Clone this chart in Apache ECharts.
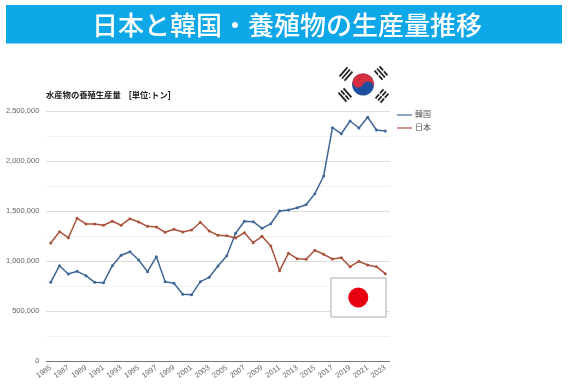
<!DOCTYPE html>
<html><head><meta charset="utf-8">
<style>html,body{margin:0;padding:0;background:#fff}#c{width:570px;height:386px}</style>
<script src="https://cdn.jsdelivr.net/npm/echarts@6/dist/echarts.min.js"></script>
</head><body><div id="c"></div>
<script>
const years = ['1985','1986','1987','1988','1989','1990','1991','1992','1993','1994','1995','1996','1997','1998','1999','2000','2001','2002','2003','2004','2005','2006','2007','2008','2009','2010','2011','2012','2013','2014','2015','2016','2017','2018','2019','2020','2021','2022','2023'];
const korea = [787000,953000,870000,897000,853000,787000,783000,953000,1057000,1093000,1010000,893000,1043000,793000,777000,667000,663000,793000,837000,950000,1053000,1277000,1397000,1393000,1327000,1373000,1500000,1510000,1533000,1563000,1673000,1850000,2333000,2273000,2400000,2330000,2437000,2310000,2300000];
const japan = [1180000,1293000,1233000,1427000,1371000,1371000,1358000,1397000,1358000,1423000,1390000,1347000,1340000,1287000,1317000,1290000,1310000,1387000,1300000,1257000,1253000,1230000,1283000,1183000,1247000,1150000,903000,1077000,1023000,1017000,1107000,1067000,1020000,1033000,943000,997000,960000,943000,873000];
const titleText = '日本と韓国・養殖物の生産量推移';
const subtitleText = '水産物の養殖生産量　[単位:トン]';
const seriesNames = ['韓国','日本'];
const colors = ['#3f6797','#a8533a'];
const FONT = '"Liberation Sans","Noto Sans CJK JP",sans-serif';

function trigram(cx, cy, rot, pattern){
  const children = [];
  pattern.forEach((broken,i)=>{
    const y = (i-1)*3.3;
    if(broken){
      children.push({type:'rect',z:10,shape:{x:-6,y:y-0.9,width:5.4,height:1.8},style:{fill:'#222'}});
      children.push({type:'rect',z:10,shape:{x:0.6,y:y-0.9,width:5.4,height:1.8},style:{fill:'#222'}});
    } else {
      children.push({type:'rect',z:10,shape:{x:-6,y:y-0.9,width:12,height:1.8},style:{fill:'#222'}});
    }
  });
  return {type:'group',x:cx,y:cy,rotation:rot,children};
}

const chart = echarts.init(document.getElementById('c'),null,{renderer:'canvas'});
chart.setOption({
  animation:false,
  backgroundColor:'#fff',
  title:{text:subtitleText,left:41,top:87,textStyle:{fontFamily:FONT,fontSize:8.3,fontWeight:'bold',color:'#222'}},
  legend:{
    data:seriesNames,orient:'vertical',left:392,top:106,itemWidth:15,itemHeight:8,itemGap:5,
    textStyle:{fontFamily:FONT,fontSize:8,color:'#555',padding:[0,0,0,-2]},
    icon:'path://M0 4.4H15V5.6H0Z'
  },
  grid:{left:46.3,right:180.3,top:111,bottom:25,containLabel:false},
  xAxis:{
    type:'category',data:years,boundaryGap:true,
    axisTick:{show:false},
    axisLine:{lineStyle:{color:'#777',width:1}},
    axisLabel:{interval:1,rotate:35,fontFamily:FONT,fontSize:7.5,color:'#666',margin:6},
    splitLine:{show:false}
  },
  yAxis:{
    type:'value',min:0,max:2500000,interval:500000,
    axisLine:{show:false},axisTick:{show:false},
    axisLabel:{fontFamily:FONT,fontSize:7.5,color:'#666',margin:7,formatter:v=>v.toLocaleString('en-US')},
    splitLine:{lineStyle:{color:'#dcdcdc',width:1}},
    minorTick:{show:false,splitNumber:2},
    minorSplitLine:{show:true,lineStyle:{color:'#f0f0f0',width:1}}
  },
  series:[
    {name:seriesNames[0],type:'line',data:korea,symbol:'circle',symbolSize:3,showSymbol:true,lineStyle:{color:colors[0],width:1.5},itemStyle:{color:colors[0]}},
    {name:seriesNames[1],type:'line',data:japan,symbol:'circle',symbolSize:3,showSymbol:true,lineStyle:{color:colors[1],width:1.5},itemStyle:{color:colors[1]}}
  ],
  graphic:[
    {type:'rect',shape:{x:6,y:5,width:556,height:38.5},style:{fill:'#0ea7e8'},z:10},
    {type:'text',x:287,y:25,z:11,style:{text:titleText,fill:'#fff',fontFamily:'"Noto Sans CJK JP"',fontSize:26,fontWeight:500,textAlign:'center',textVerticalAlign:'middle'}},
    {type:'rect',shape:{x:331,y:278,width:55,height:39},style:{fill:'#fff',stroke:'#c8c8c8',lineWidth:1.5},z:10},
    {type:'circle',shape:{cx:358.3,cy:297.5,r:10},style:{fill:'#e60012'},z:11},
    {type:'group',x:363,y:84.5,rotation:-0.45,children:[
      {type:'circle',z:10,shape:{cx:0,cy:0,r:11},style:{fill:'#1d4f9f'}},
      {type:'sector',z:11,shape:{cx:0,cy:0,r:11,r0:0,startAngle:Math.PI,endAngle:2*Math.PI},style:{fill:'#d32f3f'}},
      {type:'circle',z:12,shape:{cx:-5.5,cy:0,r:5.5},style:{fill:'#d32f3f'}},
      {type:'circle',z:12,shape:{cx:5.5,cy:0,r:5.5},style:{fill:'#1d4f9f'}}
    ]},
    trigram(346,74,0.85,[0,0,0]),
    trigram(381,73,-0.85,[1,0,1]),
    trigram(345,95,-0.85,[0,1,0]),
    trigram(382,96,0.85,[1,1,1])
  ]
});
</script></body></html>
